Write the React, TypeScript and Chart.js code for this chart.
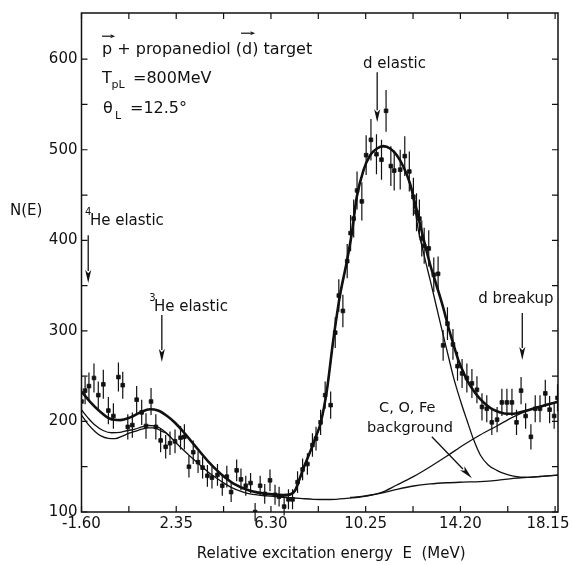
import React, { useEffect, useRef } from 'react';
import { Chart, registerables } from 'chart.js';

Chart.register(...registerables);

// ---- axis ticks ----
const xTickValues = [-1.6, 0.375, 2.35, 4.325, 6.3, 8.275, 10.25, 12.225, 14.2, 16.175, 18.15];
const xTickLabels = ['-1.60', '', '2.35', '', '6.30', '', '10.25', '', '14.20', '', '18.15\u00a0\u00a0\u00a0'];
const yTickValues = [100, 150, 200, 250, 300, 350, 400, 450, 500, 550, 600];
const yTickLabels = ['100', '', '200', '', '300', '', '400', '', '500', '', '600'];

// ---- measured spectrum: relative excitation energy (MeV), counts N(E), statistical errors ----
const energies = [
  -1.6, -1.45, -1.29, -1.08, -0.9, -0.69, -0.48, -0.27, -0.06, 0.12,
  0.33, 0.52, 0.7, 0.91, 1.09, 1.3, 1.5, 1.7, 1.91, 2.09,
  2.3, 2.53, 2.69, 2.88, 3.06, 3.26, 3.45, 3.65, 3.84, 4.07,
  4.27, 4.46, 4.64, 4.87, 5.05, 5.25, 5.45, 5.64, 5.85, 6.04,
  6.26, 6.47, 6.64, 6.85, 7.03, 7.2, 7.41, 7.62, 7.82, 8.03,
  8.18, 8.37, 8.56, 8.79, 8.98, 9.13, 9.3, 9.48, 9.62, 9.75,
  9.89, 10.09, 10.27, 10.47, 10.7, 10.91, 11.1, 11.3, 11.44, 11.69,
  11.88, 12.07, 12.24, 12.37, 12.49, 12.59, 12.69, 12.88, 13.09, 13.27,
  13.48, 13.66, 13.89, 14.08, 14.27, 14.47, 14.68, 14.89, 15.1, 15.3,
  15.51, 15.73, 15.93, 16.14, 16.35, 16.54, 16.73, 16.92, 17.14, 17.32,
  17.52, 17.74, 17.92, 18.11, 18.25,
];
const counts = [
  222, 234, 239, 248, 229, 241, 212, 206, 249, 240,
  194, 196, 224, 210, 195, 222, 194, 179, 172, 176,
  178, 182, 183, 150, 166, 155, 149, 140, 138, 141,
  129, 139, 122, 146, 136, 129, 132, 100, 129, 120,
  135, 119, 117, 106, 114, 114, 133, 147, 153, 174,
  181, 199, 229, 218, 298, 339, 322, 377, 408, 424,
  455, 443, 494, 511, 495, 489, 543, 482, 477, 478,
  493, 476, 448, 431, 424, 402, 394, 391, 362, 363,
  284, 308, 285, 261, 253, 248, 242, 235, 216, 214,
  199, 202, 221, 221, 221, 199, 234, 206, 183, 214,
  214, 231, 213, 206, 226,
];
const errors = [
  15, 15, 15, 16, 15, 16, 15, 14, 16, 15,
  14, 14, 15, 14, 14, 15, 14, 13, 13, 13,
  13, 13, 14, 12, 13, 12, 12, 12, 12, 12,
  11, 12, 11, 12, 12, 11, 11, 10, 11, 11,
  12, 11, 11, 10, 11, 11, 12, 12, 12, 13,
  13, 14, 15, 15, 17, 18, 18, 19, 20, 21,
  21, 21, 22, 23, 22, 22, 23, 22, 22, 22,
  22, 22, 21, 21, 21, 20, 20, 20, 19, 19,
  17, 18, 17, 16, 16, 16, 16, 15, 15, 15,
  14, 14, 15, 15, 15, 14, 15, 14, 14, 15,
  15, 15, 15, 14, 15,
];

// ---- fitted curves ----
const totalE = [
  -1.6, -1.25, -0.83, -0.41, 0.01, 0.43, 0.85, 1.26, 1.59, 1.97,
  2.3, 2.63, 3.01, 3.34, 3.68, 4.05, 4.39, 4.72, 5.43, 6.14,
  6.81, 7.1, 7.31, 7.5, 7.65, 7.82, 8.03, 8.2, 8.37, 8.63,
  8.9, 9.18, 9.46, 9.67, 9.88, 10.16, 10.44, 10.72, 10.99, 11.27,
  11.55, 11.83, 12.1, 12.38, 12.66, 12.94, 13.22, 13.48, 13.7, 13.91,
  14.11, 14.33, 14.47, 14.75, 15.02, 15.3, 15.57, 15.86, 16.14, 16.41,
  16.69, 16.97, 17.39, 17.81, 18.27,
];
const totalN = [
  233, 222, 211, 203, 201.5, 204.5, 210, 213.5, 212, 206,
  198.5, 189, 177, 166.5, 156, 146, 138, 131.7, 123.5, 120,
  118.8, 119.5, 124, 137, 148, 159, 173, 185, 198, 234,
  290, 339.5, 376, 407.6, 448, 477.5, 494, 501.4, 504, 501.4,
  494, 481, 462.7, 433, 402, 373, 349, 326, 304, 285,
  268, 254, 246, 234, 225, 218, 213, 210, 208.5, 208.5,
  210, 212, 215.5, 218.5, 221.7,
];
const peakE = [
  6.68, 7.1, 7.31, 7.5, 7.65, 7.82, 8.03, 8.2, 8.37, 8.63,
  8.9, 9.18, 9.46, 9.67, 9.88, 10.16, 10.44, 10.72, 10.99, 11.27,
  11.55, 11.83, 12.1, 12.27, 12.45, 12.69, 12.94, 13.19, 13.43, 13.67,
  13.91, 14.19, 14.47, 14.75, 15.03, 15.36, 15.72, 16.07, 16.41, 16.97,
  17.53, 18.27,
];
const peakN = [
  117, 118.5, 123, 136, 147.5, 158.5, 172.5, 184.5, 197.5, 233.5,
  289.5, 339, 375.5, 407, 447.5, 477, 493.5, 501, 503.5, 501,
  493.5, 480.5, 462, 440, 411, 383, 356, 328, 301, 275,
  249, 224, 201.5, 180, 163, 152, 146, 142, 139.7, 138.3,
  139.2, 140.8,
];
const backgroundE = [
  -1.6, -1.33, -1.04, -0.79, -0.48, -0.2, 0.08, 0.34, 0.63, 0.91,
  1.19, 1.38, 1.54, 1.76, 1.95, 2.3, 2.65, 3.0, 3.34, 3.69,
  4.04, 4.39, 4.73, 5.08, 5.43, 6.13, 6.82, 7.52, 8.07, 8.77,
  9.46, 10.14, 10.85, 11.55, 12.24, 12.94, 13.64, 14.32, 15.02, 15.72,
  16.41, 17.11, 17.73, 18.27,
];
const backgroundN = [
  207, 197, 189, 184, 181.3, 181, 183.5, 186.5, 189, 191.5,
  193, 193, 192, 189, 186.8, 177.5, 168.4, 160, 151.9, 144,
  137.2, 131, 126, 122.5, 119.9, 117.7, 116.2, 115, 114, 113.8,
  115, 117, 120.6, 125, 128.7, 131, 132.3, 133, 133.6, 135,
  137.2, 138.5, 139.7, 140.8,
];
const helium4E = [-1.6, -1.33, -1.04, -0.7, -0.34, 0.01, 0.34, 0.63, 0.91, 1.19, 1.47, 1.68, 1.88, 2.09];
const helium4N = [212.6, 204, 196, 190, 187.5, 188, 190, 191.5, 194, 195.5, 195, 192.5, 188.5, 183];
const breakupE = [9.6, 10.16, 10.85, 11.55, 12.24, 12.94, 13.64, 14.33, 15.02, 15.72, 16.41, 17.11, 17.8, 18.27];
const breakupN = [116, 117.5, 121, 129.8, 139, 150, 161.8, 174, 185, 195, 205, 213, 218.9, 221.7];

const FONT = '"DejaVu Sans", "Liberation Sans", sans-serif';
const INK = '#111';

const xy = (xs: number[], ys: number[]) => xs.map((x, i) => ({ x, y: ys[i] }));

function drawArrow(ctx: CanvasRenderingContext2D, x1: number, y1: number, x2: number, y2: number, headLen: number, headW: number) {
  const ang = Math.atan2(y2 - y1, x2 - x1);
  const bx = x2 - headLen * Math.cos(ang);
  const by = y2 - headLen * Math.sin(ang);
  ctx.beginPath();
  ctx.moveTo(x1, y1);
  ctx.lineTo(bx + 1 * Math.cos(ang), by + 1 * Math.sin(ang));
  ctx.stroke();
  const s = Math.sin(ang), c = Math.cos(ang);
  ctx.beginPath();
  ctx.moveTo(x2, y2);
  ctx.lineTo(bx + (headW / 2) * s, by - (headW / 2) * c);
  ctx.lineTo(bx + 0.25 * headLen * c, by + 0.25 * headLen * s);
  ctx.lineTo(bx - (headW / 2) * s, by + (headW / 2) * c);
  ctx.closePath();
  ctx.fill();
}

export default function App() {
  const ref = useRef<HTMLCanvasElement>(null);

  useEffect(() => {
    const canvas = ref.current;
    if (!canvas) return;

    const errorBars = {
      id: 'errorBars',
      afterDatasetsDraw(chart: any) {
        const { ctx, scales } = chart;
        ctx.save();
        ctx.strokeStyle = INK;
        ctx.lineWidth = 1.2;
        ctx.beginPath();
        energies.forEach((e, i) => {
          const px = scales.x.getPixelForValue(e);
          ctx.moveTo(px, scales.y.getPixelForValue(counts[i] - errors[i]));
          ctx.lineTo(px, scales.y.getPixelForValue(counts[i] + errors[i]));
        });
        ctx.stroke();
        ctx.restore();
      },
    };

    const frame = {
      id: 'frame',
      afterDraw(chart: any) {
        const { ctx, chartArea: a, scales } = chart;
        ctx.save();
        ctx.strokeStyle = INK;
        ctx.lineWidth = 1.5;
        ctx.strokeRect(a.left, a.top, a.right - a.left, a.bottom - a.top);
        ctx.lineWidth = 1.2;
        ctx.beginPath();
        for (const v of xTickValues) {
          const p = scales.x.getPixelForValue(v);
          ctx.moveTo(p, a.bottom); ctx.lineTo(p, a.bottom - 6);
          ctx.moveTo(p, a.top); ctx.lineTo(p, a.top + 6);
        }
        for (const v of yTickValues) {
          const p = scales.y.getPixelForValue(v);
          ctx.moveTo(a.left, p); ctx.lineTo(a.left + 6, p);
          ctx.moveTo(a.right, p); ctx.lineTo(a.right - 6, p);
        }
        ctx.stroke();
        ctx.restore();
      },
    };

    const annotations = {
      id: 'annotations',
      afterDraw(chart: any) {
        const { ctx, chartArea: a, scales } = chart;
        const X = (e: number) => scales.x.getPixelForValue(e);
        const Y = (n: number) => scales.y.getPixelForValue(n);
        const f = (size: number) => `${size}px ${FONT}`;
        ctx.save();
        ctx.fillStyle = INK;
        ctx.strokeStyle = INK;
        ctx.textBaseline = 'alphabetic';
        ctx.textAlign = 'left';

        // title block
        const x0 = X(-0.745);
        const b1 = Y(605.5), b2 = Y(573.5), b3 = Y(540.4);
        ctx.font = f(16);
        const line1 = 'p + propanediol (d) target';
        ctx.fillText(line1, x0, b1);
        const pW = ctx.measureText('p').width;
        const dL = x0 + ctx.measureText('p + propanediol (').width;
        const dW = ctx.measureText('d').width;
        ctx.lineWidth = 1.2;
        drawArrow(ctx, x0, b1 - 18, x0 + pW + 3, b1 - 18, 5, 4);
        drawArrow(ctx, dL - 1, b1 - 21, dL + dW + 3, b1 - 21, 5, 4);

        ctx.font = f(16);
        ctx.fillText('T', x0, b2);
        ctx.font = f(11);
        ctx.fillText('pL', x0 + 9.5, b2 + 5);
        ctx.font = f(16);
        ctx.fillText('=800MeV', x0 + 31, b2);

        ctx.fillText('θ', x0 + 1, b3);
        ctx.font = f(11);
        ctx.fillText('L', x0 + 13, b3 + 6);
        ctx.font = f(16);
        ctx.fillText('=12.5°', x0 + 28, b3);

        // peak labels
        ctx.font = f(15);
        ctx.fillText('d elastic', X(10.14), Y(590.1));
        ctx.fillText('He elastic', X(-1.25), Y(416.8));
        ctx.fillText('He elastic', X(1.42), Y(321.9));
        ctx.fillText('d breakup', X(14.94), Y(330.7));
        ctx.font = f(10);
        ctx.fillText('4', X(-1.45), Y(416.8) - 10);
        ctx.fillText('3', X(1.22), Y(321.9) - 10);
        ctx.font = f(14.5);
        ctx.fillText('C, O, Fe', X(10.81), Y(210.4));
        ctx.fillText('background', X(10.31), Y(188.3));

        // arrows
        ctx.lineWidth = 1.3;
        drawArrow(ctx, X(-1.32), Y(405.7), X(-1.32), Y(352.8), 13, 6);
        drawArrow(ctx, X(1.75), Y(317.4), X(1.75), Y(265.6), 13, 6);
        drawArrow(ctx, X(10.73), Y(585.7), X(10.73), Y(530.5), 13, 6);
        drawArrow(ctx, X(16.78), Y(319.6), X(16.78), Y(267.8), 13, 6);
        drawArrow(ctx, X(13.01), Y(183.1), X(14.68), Y(137.2), 14, 6);

        // axis titles
        ctx.font = f(15);
        ctx.fillText('N(E)', a.left - 71.5, Y(427.8));
        ctx.textAlign = 'center';
        ctx.fillText('Relative excitation energy  E  (MeV)', X(8.81), a.bottom + 46);
        ctx.restore();
      },
    };

    const lineStyle = (width: number) => ({
      showLine: true,
      borderColor: INK,
      borderWidth: width,
      pointRadius: 0,
      pointHoverRadius: 0,
      fill: false,
      cubicInterpolationMode: 'monotone' as const,
    });

    const chart = new Chart(canvas, {
      type: 'scatter',
      data: {
        datasets: [
          {
            label: 'data',
            data: xy(energies, counts),
            pointStyle: 'rect',
            pointRadius: 2.6,
            pointBackgroundColor: INK,
            pointBorderColor: INK,
            pointBorderWidth: 0.8,
            showLine: false,
          },
          { label: 'total fit', data: xy(totalE, totalN), ...lineStyle(2.6) },
          { label: 'd elastic + background', data: xy(peakE, peakN), ...lineStyle(1.3) },
          { label: 'C, O, Fe background', data: xy(backgroundE, backgroundN), ...lineStyle(1.3) },
          { label: '4He + background', data: xy(helium4E, helium4N), ...lineStyle(1.3) },
          { label: 'd breakup + background', data: xy(breakupE, breakupN), ...lineStyle(1.3) },
        ] as any,
      },
      options: {
        responsive: false,
        animation: false,
        devicePixelRatio: 1,
        layout: { padding: { top: 13, right: 15, left: 0, bottom: 0 } },
        plugins: { legend: { display: false }, tooltip: { enabled: false } },
        scales: {
          x: {
            type: 'linear',
            min: -1.6,
            max: 18.27,
            grid: { display: false, drawTicks: false },
            border: { display: false },
            afterBuildTicks: (s: any) => { s.ticks = xTickValues.map((v) => ({ value: v })); },
            afterFit: (s: any) => { s.height = 53; s.paddingLeft = 0; s.paddingRight = 0; },
            ticks: {
              autoSkip: false,
              maxRotation: 0,
              padding: 3,
              color: INK,
              font: { family: FONT, size: 15 },
              callback: (_v: any, i: number) => xTickLabels[i] ?? '',
            },
          },
          y: {
            type: 'linear',
            min: 100,
            max: 651,
            grid: { display: false, drawTicks: false },
            border: { display: false },
            afterBuildTicks: (s: any) => { s.ticks = yTickValues.map((v) => ({ value: v })); },
            afterFit: (s: any) => { s.width = 81.5; s.paddingTop = 0; s.paddingBottom = 0; },
            ticks: {
              autoSkip: false,
              padding: 4,
              color: INK,
              font: { family: FONT, size: 15 },
              callback: (_v: any, i: number) => yTickLabels[i] ?? '',
            },
          },
        },
      } as any,
      plugins: [errorBars, frame, annotations],
    });
    return () => chart.destroy();
  }, []);

  return (
    <div style={{ position: 'absolute', left: 0, top: 0, width: 573, height: 565, background: '#fff' }}>
      <canvas ref={ref} width={573} height={565} style={{ display: 'block', width: 573, height: 565 }} />
    </div>
  );
}
